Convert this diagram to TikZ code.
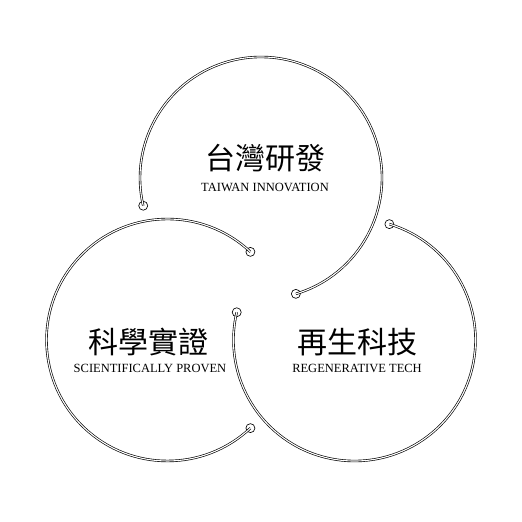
\documentclass[tikz,border=0pt]{standalone}
\usepackage{fontspec}
\setmainfont{Liberation Serif}
\newfontfamily\cjk{Noto Sans CJK TC}
\usepackage{tikz}

\begin{document}
\begin{tikzpicture}[x=1pt, y=1pt,
    tube/.style={double, double distance=1.1pt, line width=0.65pt},
    endring/.style={circle, draw, line width=0.65pt, minimum size=9pt, inner sep=0pt},
    title/.style={font=\cjk\fontsize{30}{30}\selectfont, inner sep=0pt},
    subtitle/.style={font=\fontsize{12.5}{12.5}\selectfont, inner sep=0pt}]
            \fill [white] (0, 0) rectangle (522, 522);
            \coordinate (tw) at (261, 344);
            \coordinate (sp) at (167.5, 182);
            \coordinate (rt) at (354.5, 182);
            % top circle, open towards lower left
            \node (tw-a) at ([shift={(-73.25:121)}]tw) [endring] {};
            \node (tw-b) at ([shift={(193.25:121)}]tw) [endring] {};
            \draw [tube] (tw-a.center) arc [start angle=-73.25, end angle=193.25, radius=121];
            % left circle, open towards the right
            \node (sp-a) at ([shift={(46.75:121)}]sp) [endring] {};
            \node (sp-b) at ([shift={(313.25:121)}]sp) [endring] {};
            \draw [tube] (sp-a.center) arc [start angle=46.75, end angle=313.25, radius=121];
            % right circle, open towards upper left
            \node (rt-a) at ([shift={(166.75:121)}]rt) [endring] {};
            \node (rt-b) at ([shift={(433.25:121)}]rt) [endring] {};
            \draw [tube] (rt-a.center) arc [start angle=166.75, end angle=433.25, radius=121];
            % labels
            \node (tw-t) at (265, 364) [title] {台灣研發};
            \node (tw-s) at (265, 335) [subtitle] {TAIWAN INNOVATION};
            \node (sp-t) at (148, 180) [title] {科學實證};
            \node (sp-s) at (150, 154) [subtitle] {SCIENTIFICALLY PROVEN};
            \node (rt-t) at (357, 180) [title] {再生科技};
            \node (rt-s) at (357, 154) [subtitle] {REGENERATIVE TECH};
        \end{tikzpicture}
\end{document}
